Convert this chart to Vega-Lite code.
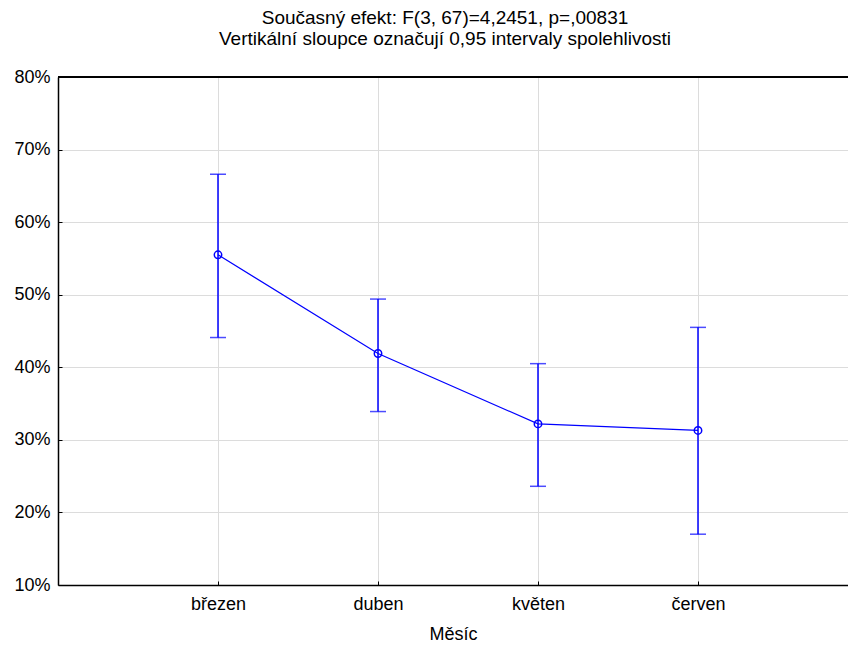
{
  "$schema": "https://vega.github.io/schema/vega-lite/v6.json",
  "width": 790,
  "height": 508,
  "autosize": {"type": "none"},
  "padding": {"left": 58, "top": 77, "right": 0, "bottom": 61},
  "background": "white",
  "config": {
    "view": {"stroke": null},
    "font": "Liberation Sans",
    "axis": {
      "labelFont": "Liberation Sans",
      "titleFont": "Liberation Sans",
      "labelFontSize": 18,
      "titleFontSize": 18,
      "labelColor": "black",
      "titleColor": "black",
      "titleFontWeight": "normal",
      "domainColor": "black",
      "domainWidth": 1.5,
      "tickColor": "black",
      "tickSize": -4,
      "gridColor": "#dcdcdc",
      "gridWidth": 1
    }
  },
  "title": {
    "text": ["Současný efekt: F(3, 67)=4,2451, p=,00831", "Vertikální sloupce označují 0,95 intervaly spolehlivosti"],
    "fontSize": 19,
    "fontWeight": "normal",
    "font": "Liberation Sans",
    "color": "black",
    "anchor": "middle",
    "dx": -8,
    "offset": 19,
    "lineHeight": 21
  },
  "data": {
    "values": [
      {"idx": 1, "month": "březen", "mean": 0.555, "lo": 0.441, "hi": 0.666},
      {"idx": 2, "month": "duben", "mean": 0.419, "lo": 0.339, "hi": 0.494},
      {"idx": 3, "month": "květen", "mean": 0.322, "lo": 0.236, "hi": 0.405},
      {"idx": 4, "month": "červen", "mean": 0.313, "lo": 0.170, "hi": 0.455}
    ]
  },
  "encoding": {
    "x": {
      "field": "idx",
      "type": "quantitative",
      "scale": {"domain": [0, 4.9375], "nice": false, "zero": false},
      "axis": {
        "title": "Měsíc",
        "values": [1, 2, 3, 4],
        "labelExpr": "['březen','duben','květen','červen'][datum.value - 1]",
        "grid": true,
        "labelPadding": 14,
        "titlePadding": 12
      }
    }
  },
  "layer": [
    {
      "mark": {"type": "rule", "color": "black", "strokeWidth": 1.5},
      "encoding": {"x": null, "y": {"datum": 0.8, "type": "quantitative"}}
    },
    {
      "mark": {"type": "rule", "color": "#0000ff", "strokeWidth": 1.5},
      "encoding": {
        "y": {
          "field": "lo",
          "type": "quantitative",
          "scale": {"domain": [0.1, 0.8], "nice": false, "zero": false},
          "axis": {
            "title": null,
            "values": [0.1, 0.2, 0.3, 0.4, 0.5, 0.6, 0.7, 0.8],
            "format": ".0%",
            "grid": true,
            "labelPadding": 12
          }
        },
        "y2": {"field": "hi"}
      }
    },
    {
      "mark": {"type": "tick", "orient": "horizontal", "color": "#0000ff", "size": 16, "thickness": 1.5},
      "encoding": {"y": {"field": "lo", "type": "quantitative"}}
    },
    {
      "mark": {"type": "tick", "orient": "horizontal", "color": "#0000ff", "size": 16, "thickness": 1.5},
      "encoding": {"y": {"field": "hi", "type": "quantitative"}}
    },
    {
      "mark": {"type": "line", "color": "#0000ff", "strokeWidth": 1.2},
      "encoding": {"y": {"field": "mean", "type": "quantitative"}}
    },
    {
      "mark": {"type": "point", "filled": false, "color": "#0000ff", "size": 55, "strokeWidth": 1.5, "opacity": 1},
      "encoding": {"y": {"field": "mean", "type": "quantitative"}}
    }
  ]
}
